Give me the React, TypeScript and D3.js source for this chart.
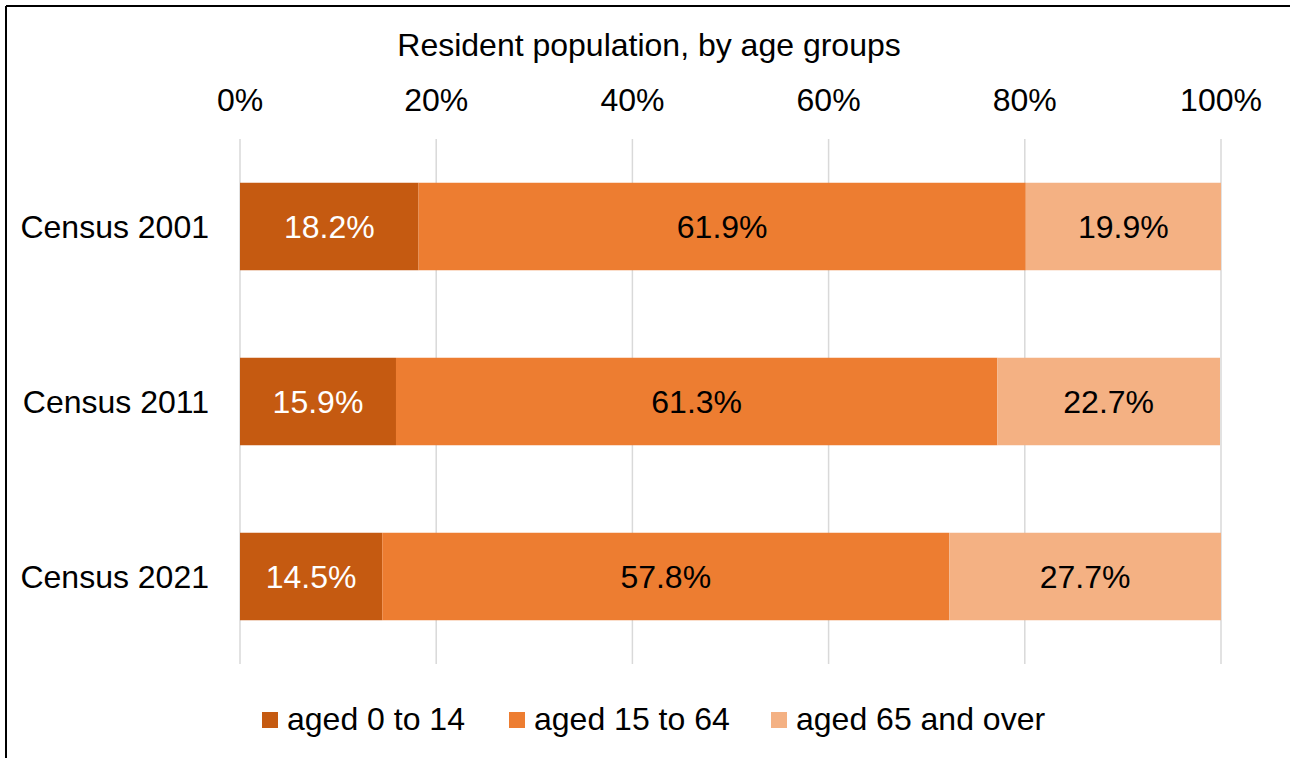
import React from "react";
import * as d3 from "d3";

const categories = ["Census 2001", "Census 2011", "Census 2021"];
const seriesNames = ["aged 0 to 14", "aged 15 to 64", "aged 65 and over"];
const aged0to14 = [18.2, 15.9, 14.5];
const aged15to64 = [61.9, 61.3, 57.8];
const aged65over = [19.9, 22.7, 27.7];
const tickValues = [0, 20, 40, 60, 80, 100];
const colors = ["#C55A11", "#ED7D31", "#F4B183"];
const labelColors = ["#FFFFFF", "#000000", "#000000"];

const W = 1290;
const H = 758;
const FONT = "Arial, 'Liberation Sans', sans-serif";
const FS = 32;

export default function App() {
  const x = d3.scaleLinear().domain([0, 100]).range([240, 1221]);
  const y = d3.scaleBand().domain(categories).range([139, 664]).paddingInner(0.5).paddingOuter(0.25);
  const series = [aged0to14, aged15to64, aged65over];
  const rows = categories.map((c, i) => {
    const o: any = { cat: c };
    seriesNames.forEach((s, j) => (o[s] = series[j][i]));
    return o;
  });
  const stacked = d3.stack().keys(seriesNames)(rows);
  const legendX = [262, 509, 771];

  return (
    <svg width={W} height={H} style={{ position: "absolute", left: 0, top: 0, display: "block" }}>
      <rect x={0} y={0} width={W} height={H} fill="#fff" />
      <line x1={6} y1={6} x2={W} y2={6} stroke="#000" strokeWidth={2} />
      <line x1={6} y1={6} x2={6} y2={H} stroke="#000" strokeWidth={2} />
      <text x={649} y={56} textAnchor="middle" fontFamily={FONT} fontSize={FS} fill="#000">
        Resident population, by age groups
      </text>
      {tickValues.map((t) => (
        <g key={t}>
          <line x1={x(t)} x2={x(t)} y1={139} y2={664} stroke="#D9D9D9" strokeWidth={1.5} />
          <text x={x(t)} y={111} textAnchor="middle" fontFamily={FONT} fontSize={FS} fill="#000">
            {t}%
          </text>
        </g>
      ))}
      {stacked.map((layer, j) => (
        <g key={layer.key}>
          {layer.map((d: any, i: number) => {
            const cat = categories[i];
            const x0 = x(d[0]);
            const x1 = x(d[1]);
            const yy = y(cat)!;
            return (
              <g key={cat}>
                <rect x={x0} y={yy} width={x1 - x0} height={y.bandwidth()} fill={colors[j]} />
                <text
                  x={(x0 + x1) / 2}
                  y={yy + y.bandwidth() / 2 + 11}
                  textAnchor="middle"
                  fontFamily={FONT}
                  fontSize={FS}
                  fill={labelColors[j]}
                >
                  {series[j][i].toFixed(1)}%
                </text>
              </g>
            );
          })}
        </g>
      ))}
      {categories.map((c) => (
        <text
          key={c}
          x={209}
          y={y(c)! + y.bandwidth() / 2 + 11}
          textAnchor="end"
          fontFamily={FONT}
          fontSize={FS}
          fill="#000"
        >
          {c}
        </text>
      ))}
      {seriesNames.map((s, j) => (
        <g key={s}>
          <rect x={legendX[j]} y={712} width={16} height={16} fill={colors[j]} />
          <text x={legendX[j] + 25} y={730} fontFamily={FONT} fontSize={FS} fill="#000">
            {s}
          </text>
        </g>
      ))}
    </svg>
  );
}
